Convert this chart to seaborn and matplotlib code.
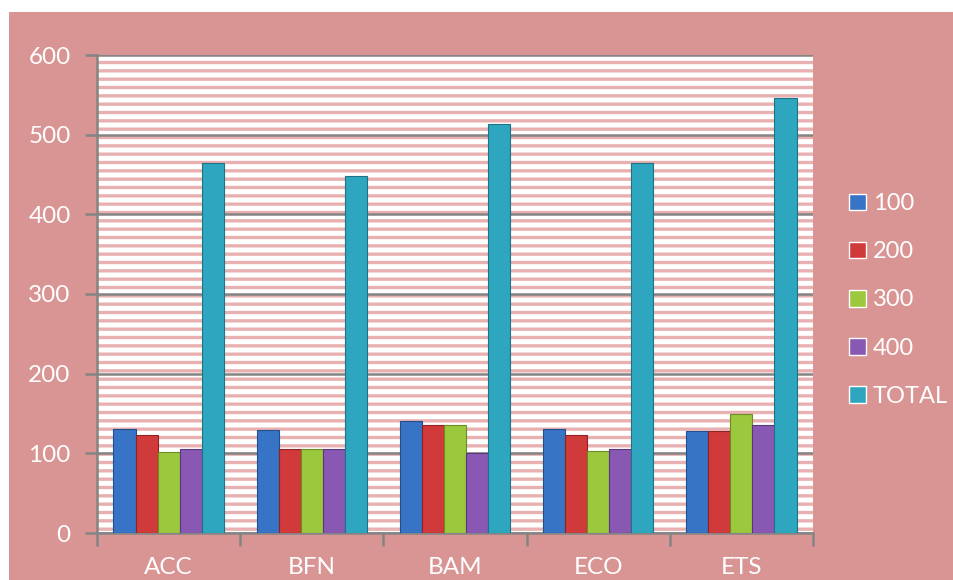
import matplotlib
matplotlib.use("Agg")
import matplotlib.pyplot as plt
from matplotlib.patches import Rectangle
import seaborn as sns
import pandas as pd

categories = ["ACC", "BFN", "BAM", "ECO", "ETS"]
series_names = ["100", "200", "300", "400", "TOTAL"]
s100 = [130, 129, 140, 130, 128]
s200 = [123, 106, 136, 123, 128]
s300 = [102, 106, 136, 103, 150]
s400 = [106, 106, 100, 106, 136]
total = [464, 448, 513, 464, 546]
yticks = [0, 100, 200, 300, 400, 500, 600]

colors = ["#3874c6", "#d03a3a", "#9cc83e", "#8858b2", "#2fa6c0"]
edge_colors = ["#1f4f8f", "#8e2323", "#6a8c24", "#5a367c", "#1d7286"]
pink = "#d99594"
gray = "#848484"

rows = []
for name, vals in zip(series_names, [s100, s200, s300, s400, total]):
    for c, v in zip(categories, vals):
        rows.append({"cat": c, "series": name, "val": v})
df = pd.DataFrame(rows)

sns.set_theme(style="white")
plt.rcParams["font.family"] = ["Lato", "DejaVu Sans"]
plt.rcParams["hatch.linewidth"] = 2.4

fig = plt.figure(figsize=(9.54, 5.8), dpi=100)
fig.patch.set_facecolor("white")
fig.patches.append(Rectangle((9 / 954, 0), 1, (580 - 12) / 580, transform=fig.transFigure,
                             facecolor=pink, edgecolor="none", zorder=-10))

ax = fig.add_axes([97 / 954, 1 - 533 / 580, (813 - 97) / 954, (533 - 55) / 580])
ax.patch.set_alpha(0)
ax.add_patch(Rectangle((0, 0), 1, 1, transform=ax.transAxes, facecolor="white",
                       edgecolor="#e8b0b0", hatch="--", linewidth=0, zorder=-5))

sns.barplot(data=df, x="cat", y="val", hue="series", order=categories,
            hue_order=series_names, palette=colors, width=0.77, saturation=1,
            ax=ax, zorder=3, errorbar=None)

for i, cont in enumerate(ax.containers):
    for b in cont:
        b.set_edgecolor(edge_colors[i])
        b.set_linewidth(0.8)

ax.set_ylim(0, 600)
ax.set_xlim(-0.5, 4.5)
ax.set_yticks(yticks)
ax.set_yticklabels([str(t) for t in yticks])
ax.yaxis.grid(True, color=gray, linewidth=1.8, zorder=1)
ax.set_axisbelow(True)
ax.set_xlabel("")
ax.set_ylabel("")

for s in ["top", "right"]:
    ax.spines[s].set_visible(False)
for s in ["left", "bottom"]:
    ax.spines[s].set_color(gray)
    ax.spines[s].set_linewidth(1.8)

ax.tick_params(axis="y", which="major", length=9, width=1.8, color=gray,
               labelcolor="white", labelsize=17.5, pad=10, left=True)
ax.tick_params(axis="x", which="major", length=0, labelcolor="white",
               labelsize=17.5, pad=17)
ax.set_xticks([-0.5, 0.5, 1.5, 2.5, 3.5, 4.5], minor=True)
ax.tick_params(axis="x", which="minor", length=9, width=1.8, color=gray, bottom=True)

handles, labels = ax.get_legend_handles_labels()
ax.legend(handles, labels, loc="center left", bbox_to_anchor=(840 / 954, 1 - 300 / 580),
          bbox_transform=fig.transFigure, frameon=False, fontsize=17,
          labelcolor="white", handlelength=0.7, handleheight=0.7,
          handletextpad=0.3, labelspacing=1.15, borderaxespad=0)

fig.savefig("out.png", dpi=100, facecolor=fig.get_facecolor())
